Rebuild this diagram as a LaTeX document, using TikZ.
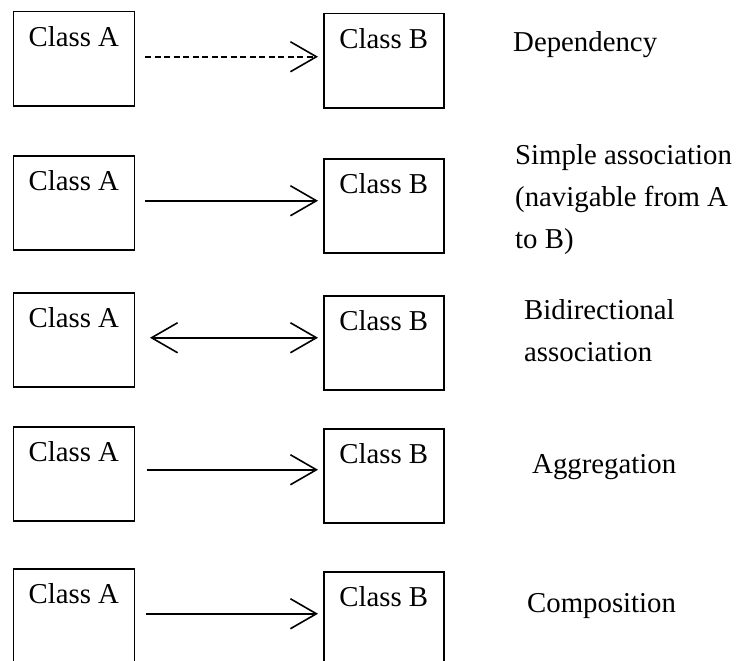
\documentclass[tikz,border=0pt]{standalone}
\usepackage{fontspec}
\setmainfont{Liberation Serif}
\newfontfamily\timesfont{Liberation Serif}
\usetikzlibrary{arrows.meta,calc}
\begin{document}
\begin{tikzpicture}[x=1bp,y=-1bp,
  every node/.style={font=\timesfont\fontsize{28.8bp}{34bp}\selectfont},
  classbox/.style={draw,line width=1.5bp,rectangle,anchor=north west,
    minimum height=94bp,inner sep=0pt,text height=35bp,text depth=59bp},
  boxa/.style={classbox,minimum width=121bp},
  boxb/.style={classbox,minimum width=120bp},
  lbl/.style={anchor=base west,inner sep=0pt},
  conn/.style={line width=1.6bp},
  dep/.style={conn,dash pattern=on 6bp off 3.5bp,-{Straight Barb[length=26bp,width=30bp]}},
  nav/.style={conn,-{Straight Barb[length=26bp,width=30bp]}},
  bidir/.style={conn,{Straight Barb[length=26bp,width=30bp]}-{Straight Barb[length=26bp,width=30bp]}}
]
\useasboundingbox (0,0) rectangle (739,661);
\clip (0,0) rectangle (739,661);
\fill[white] (0,0) rectangle (739,661);

% row 1
\node[boxa] (a1) at (12.5,11) {Class A};
\node[boxb] (b1) at (323,13) {Class B};
\draw[dep] ([xshift=10bp,yshift=2bp]a1.east) -- ([xshift=-5bp,yshift=2bp]a1.east -| b1.west);
\node[lbl] (l1) at (513,52) {Dependency};

% row 2
\node[boxa] (a2) at (12.5,155) {Class A};
\node[boxb] (b2) at (323,158) {Class B};
\draw[nav] ([xshift=10bp,yshift=2bp]a2.east) -- ([xshift=-5bp,yshift=2bp]a2.east -| b2.west);
\node[lbl] (l2a) at (515,164) {Simple association};
\node[lbl] (l2b) at (515,206) {(navigable from A};
\node[lbl] (l2c) at (515,248) {to B)};

% row 3
\node[boxa] (a3) at (12.5,292) {Class A};
\node[boxb] (b3) at (323,295) {Class B};
\draw[bidir] ([xshift=15bp,yshift=2bp]a3.east) -- ([xshift=-5bp,yshift=2bp]a3.east -| b3.west);
\node[lbl] (l3a) at (524,319) {Bidirectional};
\node[lbl] (l3b) at (524,361) {association};

% row 4
\node[boxa] (a4) at (12.5,426) {Class A};
\node[boxb] (b4) at (323,428) {Class B};
\draw[nav] ([xshift=12bp,yshift=4bp]a4.east) -- ([xshift=-5bp,yshift=4bp]a4.east -| b4.west);
\node[lbl] (l4) at (532,473) {Aggregation};

% row 5
\node[boxa] (a5) at (12.5,568) {Class A};
\node[boxb] (b5) at (323,571) {Class B};
\draw[nav] ([xshift=11bp,yshift=2bp]a5.east) -- ([xshift=-5bp,yshift=2bp]a5.east -| b5.west);
\node[lbl] (l5) at (527,612) {Composition};
\end{tikzpicture}
\end{document}
